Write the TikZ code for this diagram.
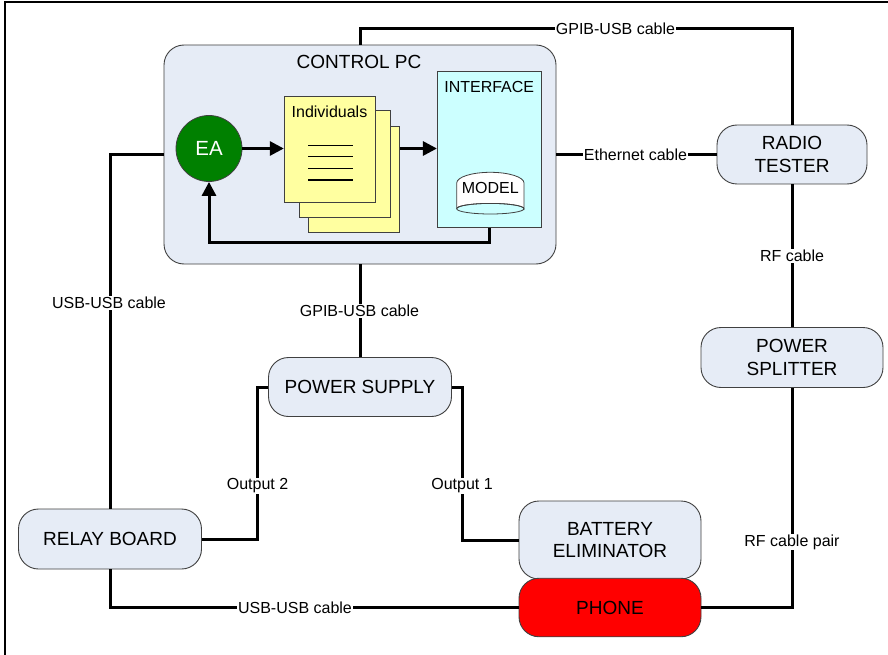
\documentclass[tikz,border=0pt]{standalone}
\usepackage{fontspec}
\setmainfont{Liberation Sans}
\usetikzlibrary{arrows.meta}
\definecolor{boxfill}{RGB}{230,236,246}
\definecolor{boxline}{RGB}{64,64,64}
\definecolor{eagreen}{RGB}{0,128,0}
\definecolor{pageyellow}{RGB}{255,255,160}
\definecolor{ifacecyan}{RGB}{204,255,255}
\definecolor{phonered}{RGB}{255,0,0}
\tikzset{
  rbox/.style={draw=boxline, line width=0.9pt, fill=boxfill, rounded corners=20pt,
     inner sep=0pt, align=center, font=\fontsize{19}{22.7}\selectfont},
  conn/.style={line width=3pt, black},
  arr/.style={line width=3pt, black, -{Triangle[length=14pt,width=14pt]}},
  lbl/.style={fill=white, inner sep=1pt, font=\fontsize{16}{18}\selectfont},
  page/.style={draw=boxline, line width=0.8pt, fill=pageyellow, minimum width=91pt, minimum height=106pt, inner sep=0pt},
  pline/.style={line width=1.2pt, black}
}
\begin{document}
\begin{tikzpicture}[x=1pt,y=-1pt]
\fill[white] (0,0) rectangle (888,655);
\useasboundingbox (0,0) rectangle (888,655);
% frame
\draw[line width=2pt] (4.5,655) -- (4.5,2.2) -- (888,2.2);

% control PC
\node[rbox, minimum width=392pt, minimum height=219pt] (pc) at (360,154.5) {};
\node[font=\fontsize{19}{22}\selectfont] (pct) at (359,62) {CONTROL PC};

% EA
\node[circle, draw=boxline, line width=0.8pt, fill=eagreen, minimum size=66pt, inner sep=0pt,
      text=white, font=\fontsize{20.5}{24}\selectfont] (ea) at (209,148.5) {EA};

% pages
\node[page] (p3) at (353.8,179.2) {};
\node[page] (p2) at (344.8,163.9) {};
\node[page] (p1) at (329.7,149) {};
\node[font=\fontsize{16}{18}\selectfont] (indt) at (329.5,111.7) {Individuals};
\coordinate (la) at (308.3,145.3); \coordinate (lb) at (353.3,145.3);
\draw[pline] (308.3,145.3) -- (353.3,145.3);
\draw[pline] (308.3,156.8) -- (353.3,156.8);
\draw[pline] (308.3,168.3) -- (353.3,168.3);
\draw[pline] (308.3,180.0) -- (353.3,180.0);

% interface
\node[draw=boxline, line width=0.8pt, fill=ifacecyan, minimum width=104.4pt, minimum height=156.3pt, inner sep=0pt] (iface) at (489.5,149.2) {};
\node[font=\fontsize{16}{18}\selectfont] (ifacet) at (489.2,86.7) {INTERFACE};

% model cylinder
\filldraw[draw=boxline, fill=white, line width=0.8pt]
  (456.7,208.7) -- (456.7,183) arc[start angle=180, end angle=0, x radius=33.65pt, y radius=10.7pt] -- (524,208.7)
  arc[start angle=0, end angle=180, x radius=33.65pt, y radius=5.3pt] -- cycle;
\draw[boxline, line width=0.8pt] (490.35,208.7) ellipse[x radius=33.65pt, y radius=5.3pt];
\node[font=\fontsize{16}{18}\selectfont, inner sep=0pt] (model) at (490.3,188) {MODEL};

% internal arrows
\draw[arr] (ea.east) -- (ea.east -| p1.west);
\draw[arr] (p3.east |- ea.east) -- (iface.west |- ea.east);
\draw[arr] (iface.south) -- ++(0,15) -| (ea.south);

% other boxes
\node[rbox, minimum width=150pt, minimum height=59pt] (rt) at (792,154.5) {RADIO\\TESTER};
\node[rbox, minimum width=182pt, minimum height=60pt] (sp) at (792,357.5) {POWER\\SPLITTER};
\node[rbox, minimum width=183pt, minimum height=59pt] (ps) at (360,387) {POWER SUPPLY};
\node[rbox, minimum width=183pt, minimum height=60pt] (relay) at (110,539) {RELAY BOARD};
\node[rbox, minimum width=182pt, minimum height=78pt] (be) at (610,540) {BATTERY\\ELIMINATOR};
\node[rbox, fill=phonered, minimum width=182pt, minimum height=58.5pt] (phone) at (610,607.5) {PHONE};

% connectors
\coordinate (gt) at (792,28.3);
\draw[conn] (pc.north) |- (gt) -- (rt.north);
\draw[conn] (pc.east) -- (rt.west);
\draw[conn] (pc.west) -| (relay.north);
\draw[conn] (pc.south) -- (ps.north);
\draw[conn] (rt.south) -- (sp.north);
\draw[conn] (phone.east) -| (sp.south);
\draw[conn] (relay.south) |- (phone.west);
\draw[conn] (ps.west) -- ++(-11,0) |- (relay.east);
\draw[conn] (ps.east) -- ++(11,0) |- (be.west);

% labels
\node[lbl] (l1) at (615.5,28.3) {GPIB-USB cable};
\node[lbl] (l2) at (635.5,155) {Ethernet cable};
\node[lbl] (l3) at (109,303) {USB-USB cable};
\node[lbl] (l4) at (359.5,311) {GPIB-USB cable};
\node[lbl] (l5) at (792,255.7) {RF cable};
\node[lbl] (l6) at (257.5,486) {Output 2};
\node[lbl] (l7) at (462,486) {Output 1};
\node[lbl] (l8) at (792,542) {RF cable pair};
\node[lbl] (l9) at (295,607.5) {USB-USB cable};
\end{tikzpicture}
\end{document}
